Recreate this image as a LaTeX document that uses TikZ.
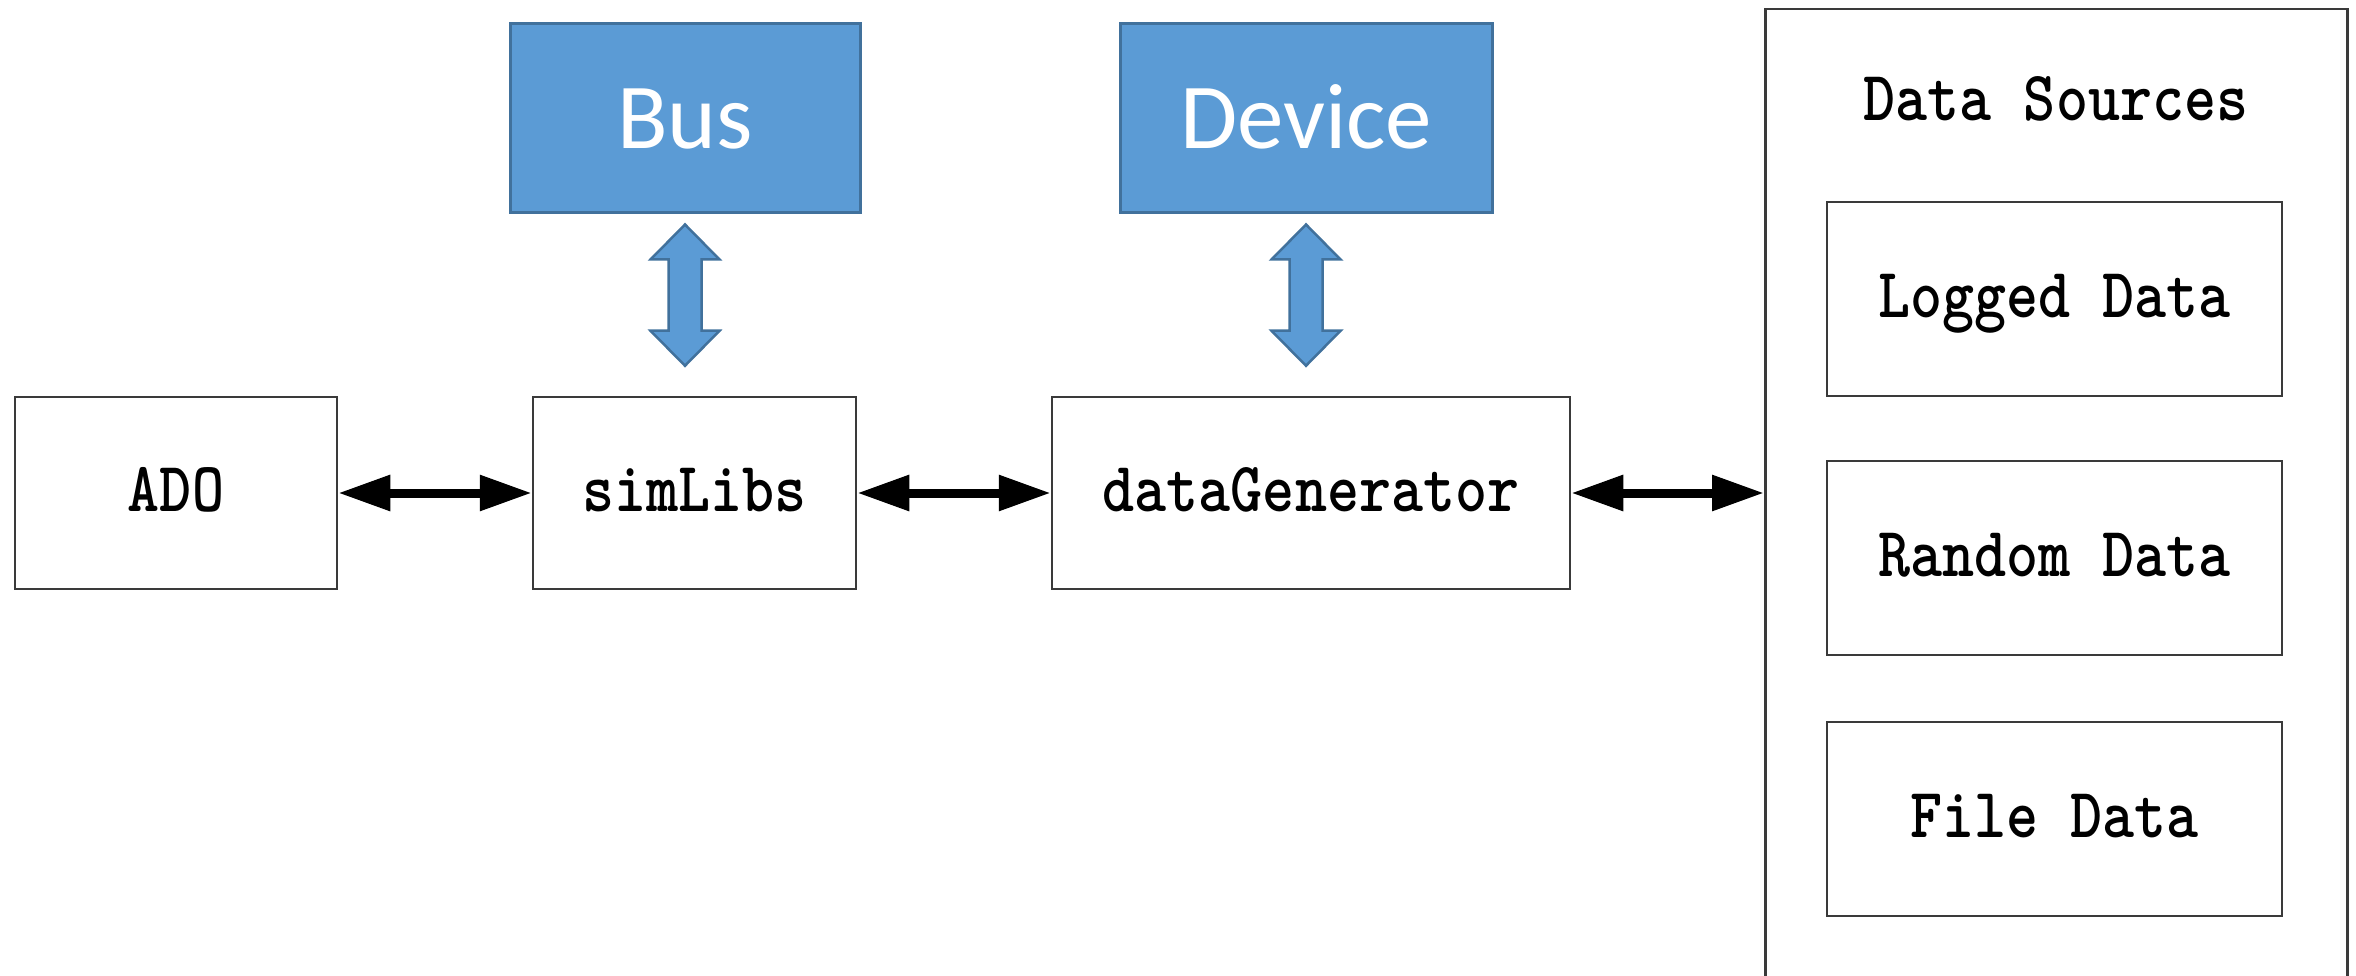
\documentclass[tikz,border=0pt]{standalone}
\usepackage{fontspec}
\setmainfont{Liberation Serif}
\newfontfamily\boxmono{lmmonolt10-bold.otf}
\newfontfamily\blockfont{Carlito}
\usetikzlibrary{arrows.meta}
\definecolor{boxline}{HTML}{3A3A3A}
\definecolor{blockfill}{HTML}{5B9BD5}
\definecolor{blockline}{HTML}{41719C}

% tall bold monospace labels
\newcommand{\monolabel}[1]{\scalebox{1}[1.16]{\boxmono\fontsize{61}{70}\selectfont #1}}

\begin{document}
\begin{tikzpicture}[x=1pt,y=-1pt,
  plainbox/.style={draw=boxline, line width=2.5pt, inner sep=0pt,
                   text height=43pt, text depth=6pt},
  block/.style={draw=blockline, fill=blockfill, line width=3pt, inner sep=0pt,
                text=white, text height=60pt, text depth=0pt,
                font=\blockfont\fontsize{93}{100}\selectfont},
  link/.style={line width=9pt, {Triangle[length=52pt,width=34pt]}-{Triangle[length=52pt,width=34pt]}},
  busarrow/.style={draw=blockline, fill=blockfill, line width=2.5pt, line join=miter}
]
\useasboundingbox (0,0) rectangle (2356,976);
\clip (0,0) rectangle (2356,976);

% main chain
\node[plainbox, minimum width=322pt, minimum height=192pt] (ado) at (176,493) {\monolabel{ADO}};
\node[plainbox, minimum width=323pt, minimum height=192pt] (sim) at (694.5,493) {\monolabel{simLibs}};
\node[plainbox, minimum width=518pt, minimum height=192pt] (gen) at (1311,493) {\monolabel{dataGenerator}};

% data sources panel
\node[draw=boxline, line width=2.5pt, inner sep=0pt, minimum width=582pt, minimum height=1000pt,
      anchor=north west] (src) at (1764,8) {};
\node[inner sep=0pt, text height=43pt, text depth=0pt] (srctitle) at (2056,99) {\monolabel{Data Sources}};
\node[plainbox, minimum width=455pt, minimum height=194pt] (logged) at (2054.5,299) {\monolabel{Logged Data}};
\node[plainbox, minimum width=455pt, minimum height=194pt] (random) at (2054.5,558) {\monolabel{Random Data}};
\node[plainbox, minimum width=455pt, minimum height=194pt] (file) at (2054.5,819) {\monolabel{File Data}};

% blue blocks
\node[block, minimum width=350pt, minimum height=189pt] (bus) at (685,118.5) {Bus};
\node[block, minimum width=372pt, minimum height=189pt] (device) at (1306,118.5) {Device};

% connectors
\draw[link] (ado) -- (sim);
\draw[link] (sim) -- (gen);
\draw[link] (gen.east) -- (gen.east -| src.west);

% block arrows between blue blocks and the chain
\coordinate (bt) at ([yshift=-10pt]bus.south);
\coordinate (bb) at ([yshift=30pt]sim.north -| bus.south);
\coordinate (dt) at ([yshift=-10pt]device.south);
\coordinate (db) at ([yshift=30pt]gen.north -| device.south);
\foreach \t/\b in {bt/bb, dt/db}{
  \draw[busarrow] (\t)
    -- ([shift={(34.5pt,-35pt)}]\t) -- ([shift={(16.5pt,-35pt)}]\t)
    -- ([shift={(16.5pt,35pt)}]\b) -- ([shift={(34.5pt,35pt)}]\b)
    -- (\b)
    -- ([shift={(-34.5pt,35pt)}]\b) -- ([shift={(-16.5pt,35pt)}]\b)
    -- ([shift={(-16.5pt,-35pt)}]\t) -- ([shift={(-34.5pt,-35pt)}]\t)
    -- cycle;
}
\end{tikzpicture}
\end{document}
